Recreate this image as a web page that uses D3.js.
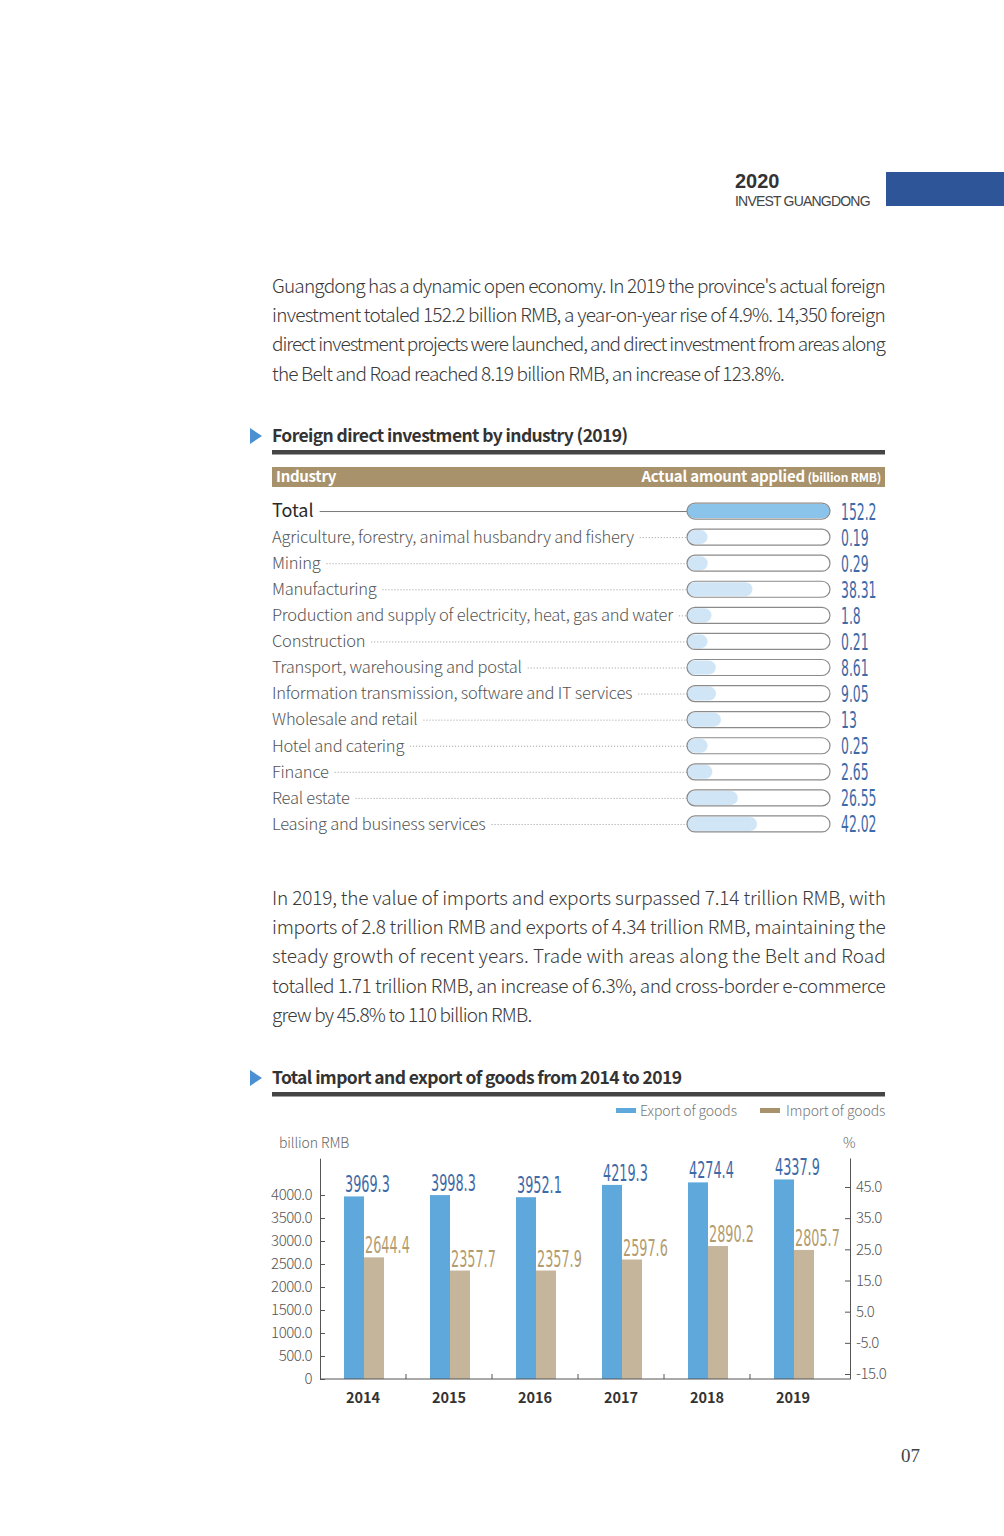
<!DOCTYPE html>
<html>
<head>
<meta charset="utf-8">
<script src="https://cdn.jsdelivr.net/npm/d3@7"></script>
<style>
  body { margin: 0; background: #fff; }
  svg { display: block; font-family: "Noto Sans CJK SC", "Noto Sans", sans-serif; }
</style>
</head>
<body>
<svg id="page" width="1004" height="1536"></svg>
<script>
// ---- text ----
const introLines = [
  "Guangdong has a dynamic open economy. In 2019 the province's actual foreign",
  "investment totaled 152.2 billion RMB, a year-on-year rise of 4.9%. 14,350 foreign",
  "direct investment projects were launched, and direct investment from areas along",
  "the Belt and Road reached 8.19 billion RMB, an increase of 123.8%."
];
const tradeLines = [
  "In 2019, the value of imports and exports surpassed 7.14 trillion RMB, with",
  "imports of 2.8 trillion RMB and exports of 4.34 trillion RMB, maintaining the",
  "steady growth of recent years. Trade with areas along the Belt and Road",
  "totalled 1.71 trillion RMB, an increase of 6.3%, and cross-border e-commerce",
  "grew by 45.8% to 110 billion RMB."
];

// ---- FDI by industry (2019), billion RMB ----
const industries = [
  "Total",
  "Agriculture, forestry, animal husbandry and fishery",
  "Mining",
  "Manufacturing",
  "Production and supply of electricity, heat, gas and water",
  "Construction",
  "Transport, warehousing and postal",
  "Information transmission, software and IT services",
  "Wholesale and retail",
  "Hotel and catering",
  "Finance",
  "Real estate",
  "Leasing and business services"
];
const fdiValues = [152.2, 0.19, 0.29, 38.31, 1.8, 0.21, 8.61, 9.05, 13, 0.25, 2.65, 26.55, 42.02];

// ---- trade 2014-2019, billion RMB ----
const years = ["2014", "2015", "2016", "2017", "2018", "2019"];
const exportValues = [3969.3, 3998.3, 3952.1, 4219.3, 4274.4, 4337.9];
const importValues = [2644.4, 2357.7, 2357.9, 2597.6, 2890.2, 2805.7];
const leftTicks = [0, 500, 1000, 1500, 2000, 2500, 3000, 3500, 4000];
const rightTicks = [-15, -5, 5, 15, 25, 35, 45];
const seriesNames = ["Export of goods", "Import of goods"];

const BLUE = "#5fa8dc", TAN = "#a8926b", TAN_BAR = "#c4b59b";
const NUM_BLUE = "#3e6aa8", NUM_TAN = "#b39c70";
const NARROW = '"Liberation Sans Narrow", "DejaVu Sans Condensed", "Liberation Sans", sans-serif';

const svg = d3.select("#page");

// condensed numerals
function squeeze(sel, x, y, k) {
  sel.attr("transform", (d, i) => `translate(${x(d, i)},${y(d, i)}) scale(${k},1)`);
}

// ---- page header ----
svg.append("text").attr("x", 735).attr("y", 188)
  .attr("font-family", '"Liberation Sans", sans-serif')
  .attr("font-size", 20).attr("font-weight", 700).attr("fill", "#333").text("2020");
svg.append("text").attr("x", 735).attr("y", 206)
  .attr("font-family", '"Liberation Sans", sans-serif')
  .attr("font-size", 14).attr("fill", "#444").attr("letter-spacing", -0.8).text("INVEST GUANGDONG");
svg.append("rect").attr("x", 886).attr("y", 172).attr("width", 118).attr("height", 34).attr("fill", "#2e5597");

// ---- paragraphs ----
function paragraph(lines, y0) {
  svg.append("g").selectAll("text").data(lines).join("text")
    .attr("x", 272)
    .attr("y", (d, i) => y0 + i * 29.2)
    .attr("font-size", 19)
    .attr("font-weight", 300)
    .attr("fill", "#3a3a3a")
    .attr("letter-spacing", -0.8)
    .each(function (d, i) {
      if (i < lines.length - 1) d3.select(this).attr("textLength", 613).attr("lengthAdjust", "spacing");
    })
    .text(d => d);
}
paragraph(introLines, 293);
paragraph(tradeLines, 905);

// ---- section title ----
function sectionTitle(label, y) {
  svg.append("path")
    .attr("d", `M250,${y - 8}L262,${y}L250,${y + 8}Z`).attr("fill", "#4a90d2");
  svg.append("text").attr("x", 272).attr("y", y + 6)
    .attr("font-size", 17.5).attr("font-weight", 700).attr("fill", "#333")
    .attr("letter-spacing", -0.6).text(label);
  svg.append("rect").attr("x", 272).attr("y", y + 14).attr("width", 613).attr("height", 4.5).attr("fill", "#454545");
}
sectionTitle("Foreign direct investment by industry (2019)", 436);
sectionTitle("Total import and export of goods from 2014 to 2019", 1078);

// ---- table header ----
svg.append("rect").attr("x", 272).attr("y", 467).attr("width", 613).attr("height", 20).attr("fill", TAN);
svg.append("text").attr("x", 276).attr("y", 482).attr("font-size", 15).attr("font-weight", 700)
  .attr("fill", "#fff").attr("letter-spacing", -0.3).text("Industry");
const hdr = svg.append("text").attr("x", 881).attr("y", 482).attr("text-anchor", "end")
  .attr("font-weight", 700).attr("fill", "#fff").attr("letter-spacing", -0.2);
hdr.append("tspan").attr("font-size", 15).text("Actual amount applied");
hdr.append("tspan").attr("font-size", 12).text(" (billion RMB)");

// ---- FDI pill bars ----
const row = d3.scaleBand().domain(industries).range([498, 837]);
const rowY = d => row(d) + row.bandwidth() / 2;
const trackX = 687, trackW = 143, trackH = 16;
const fill = d3.scaleLinear().domain([0, 2, 9, 42, 152.2]).range([20, 25, 29, 70, trackW]).clamp(true);

const rows = svg.append("g").selectAll("g").data(industries).join("g")
  .attr("transform", d => `translate(0,${rowY(d)})`);

rows.append("text")
  .attr("x", 272).attr("dy", "0.35em")
  .attr("font-size", (d, i) => i === 0 ? 18 : 16.5)
  .attr("font-weight", (d, i) => i === 0 ? 400 : 300)
  .attr("fill", (d, i) => i === 0 ? "#2a2a2a" : "#555")
  .attr("letter-spacing", (d, i) => i === 0 ? 0 : -0.24)
  .text(d => d);

rows.each(function (d, i) {
  const g = d3.select(this);
  const end = 272 + g.select("text").node().getComputedTextLength() + 6;
  g.append("line").attr("x1", end).attr("x2", trackX).attr("y1", 0.5).attr("y2", 0.5)
    .attr("stroke", i === 0 ? "#777" : "#999")
    .attr("stroke-width", 1)
    .attr("stroke-dasharray", i === 0 ? null : "1,2");
});

rows.append("rect")
  .attr("x", trackX).attr("y", -trackH / 2 + 1)
  .attr("width", (d, i) => fill(fdiValues[i])).attr("height", trackH - 2)
  .attr("rx", (trackH - 2) / 2)
  .attr("fill", (d, i) => i === 0 ? "#8bc4ea" : "#d0e5f6");

rows.append("rect")
  .attr("x", trackX).attr("y", -trackH / 2)
  .attr("width", trackW).attr("height", trackH).attr("rx", trackH / 2)
  .attr("fill", "none").attr("stroke", "#8a8a8a").attr("stroke-width", 1.2);

rows.append("text")
  .attr("font-family", NARROW).attr("font-size", 23).attr("fill", NUM_BLUE)
  .call(squeeze, () => 841, () => 8.5, 0.6)
  .text((d, i) => String(fdiValues[i]));

// ---- trade chart ----
const x = d3.scaleBand().domain(years).range([320, 836]);
const xs = d3.scaleBand().domain(seriesNames).range([x.bandwidth() / 2 - 19, x.bandwidth() / 2 + 21]);
const y = d3.scaleLinear().domain([0, 4800]).range([1379, 1158.2]);
const y2 = d3.scaleLinear().domain([-16.6, 54.3]).range([1379, 1158]);
const fmt = d3.format(".1f");
const fmtMinus = d => fmt(d).replace("\u2212", "-");

// legend
const legend = svg.append("g").selectAll("g").data(seriesNames).join("g")
  .attr("transform", (d, i) => `translate(${[616, 760][i]},1110)`);
legend.append("rect").attr("y", -2).attr("width", 20).attr("height", 5).attr("fill", (d, i) => [BLUE, TAN][i]);
legend.append("text").attr("x", (d, i) => [24, 26][i]).attr("y", 6).attr("font-size", 14).attr("font-weight", 300)
  .attr("fill", "#777").attr("letter-spacing", -0.1).text(d => d);

svg.append("text").attr("x", 279).attr("y", 1148).attr("font-size", 14).attr("font-weight", 300)
  .attr("fill", "#666").attr("letter-spacing", -0.1).text("billion RMB");
svg.append("text").attr("x", 843).attr("y", 1148).attr("font-size", 14).attr("font-weight", 300)
  .attr("fill", "#666").text("%");

// bars
const groups = svg.append("g").selectAll("g").data(years).join("g")
  .attr("transform", d => `translate(${x(d)},0)`);
groups.append("rect")
  .attr("x", xs(seriesNames[0])).attr("width", xs.bandwidth())
  .attr("y", (d, i) => y(exportValues[i])).attr("height", (d, i) => y(0) - y(exportValues[i]))
  .attr("fill", BLUE);
groups.append("rect")
  .attr("x", xs(seriesNames[1])).attr("width", xs.bandwidth())
  .attr("y", (d, i) => y(importValues[i])).attr("height", (d, i) => y(0) - y(importValues[i]))
  .attr("fill", TAN_BAR);
groups.append("text")
  .attr("font-family", NARROW).attr("font-size", 23).attr("fill", NUM_BLUE)
  .call(squeeze, () => xs(seriesNames[0]) + 1, (d, i) => y(exportValues[i]) - 4, 0.62)
  .text((d, i) => fmt(exportValues[i]));
groups.append("text")
  .attr("font-family", NARROW).attr("font-size", 23).attr("fill", NUM_TAN)
  .call(squeeze, () => xs(seriesNames[1]) + 1, (d, i) => y(importValues[i]) - 4, 0.62)
  .text((d, i) => fmt(importValues[i]));

// axes
function styleAxis(g) {
  g.select(".domain").attr("stroke", "#555");
  g.selectAll(".tick line").attr("stroke", "#555");
  g.selectAll(".tick text").attr("fill", "#555").attr("font-size", 15).attr("font-weight", 300)
    .attr("font-family", '"Noto Sans CJK SC", "Noto Sans", sans-serif').attr("letter-spacing", -0.5);
}
svg.append("g").attr("transform", "translate(320,0)")
  .call(d3.axisLeft(y).tickValues(leftTicks).tickFormat(d => d === 0 ? "0" : fmt(d))
    .tickSizeInner(-5).tickSizeOuter(0).tickPadding(8))
  .call(styleAxis);
svg.append("g").attr("transform", "translate(850,0)")
  .call(d3.axisRight(y2).tickValues(rightTicks).tickFormat(fmtMinus)
    .tickSizeInner(-5).tickSizeOuter(0).tickPadding(6))
  .call(styleAxis);

const xAxis = svg.append("g").attr("transform", "translate(0,1379)");
xAxis.append("line").attr("x1", 320).attr("x2", 850).attr("stroke", "#555");
xAxis.selectAll(".sep").data(years.slice(1)).join("line")
  .attr("x1", d => x(d)).attr("x2", d => x(d)).attr("y1", 0).attr("y2", -5).attr("stroke", "#555");
xAxis.selectAll(".yr").data(years).join("text")
  .attr("x", d => x(d) + x.bandwidth() / 2).attr("y", 24)
  .attr("text-anchor", "middle").attr("font-size", 14.5).attr("font-weight", 700)
  .attr("fill", "#333").text(d => d);

// page number
svg.append("text").attr("x", 901).attr("y", 1462)
  .attr("font-family", '"Liberation Serif", serif').attr("font-size", 19)
  .attr("fill", "#444").text("07");
</script>
</body>
</html>
